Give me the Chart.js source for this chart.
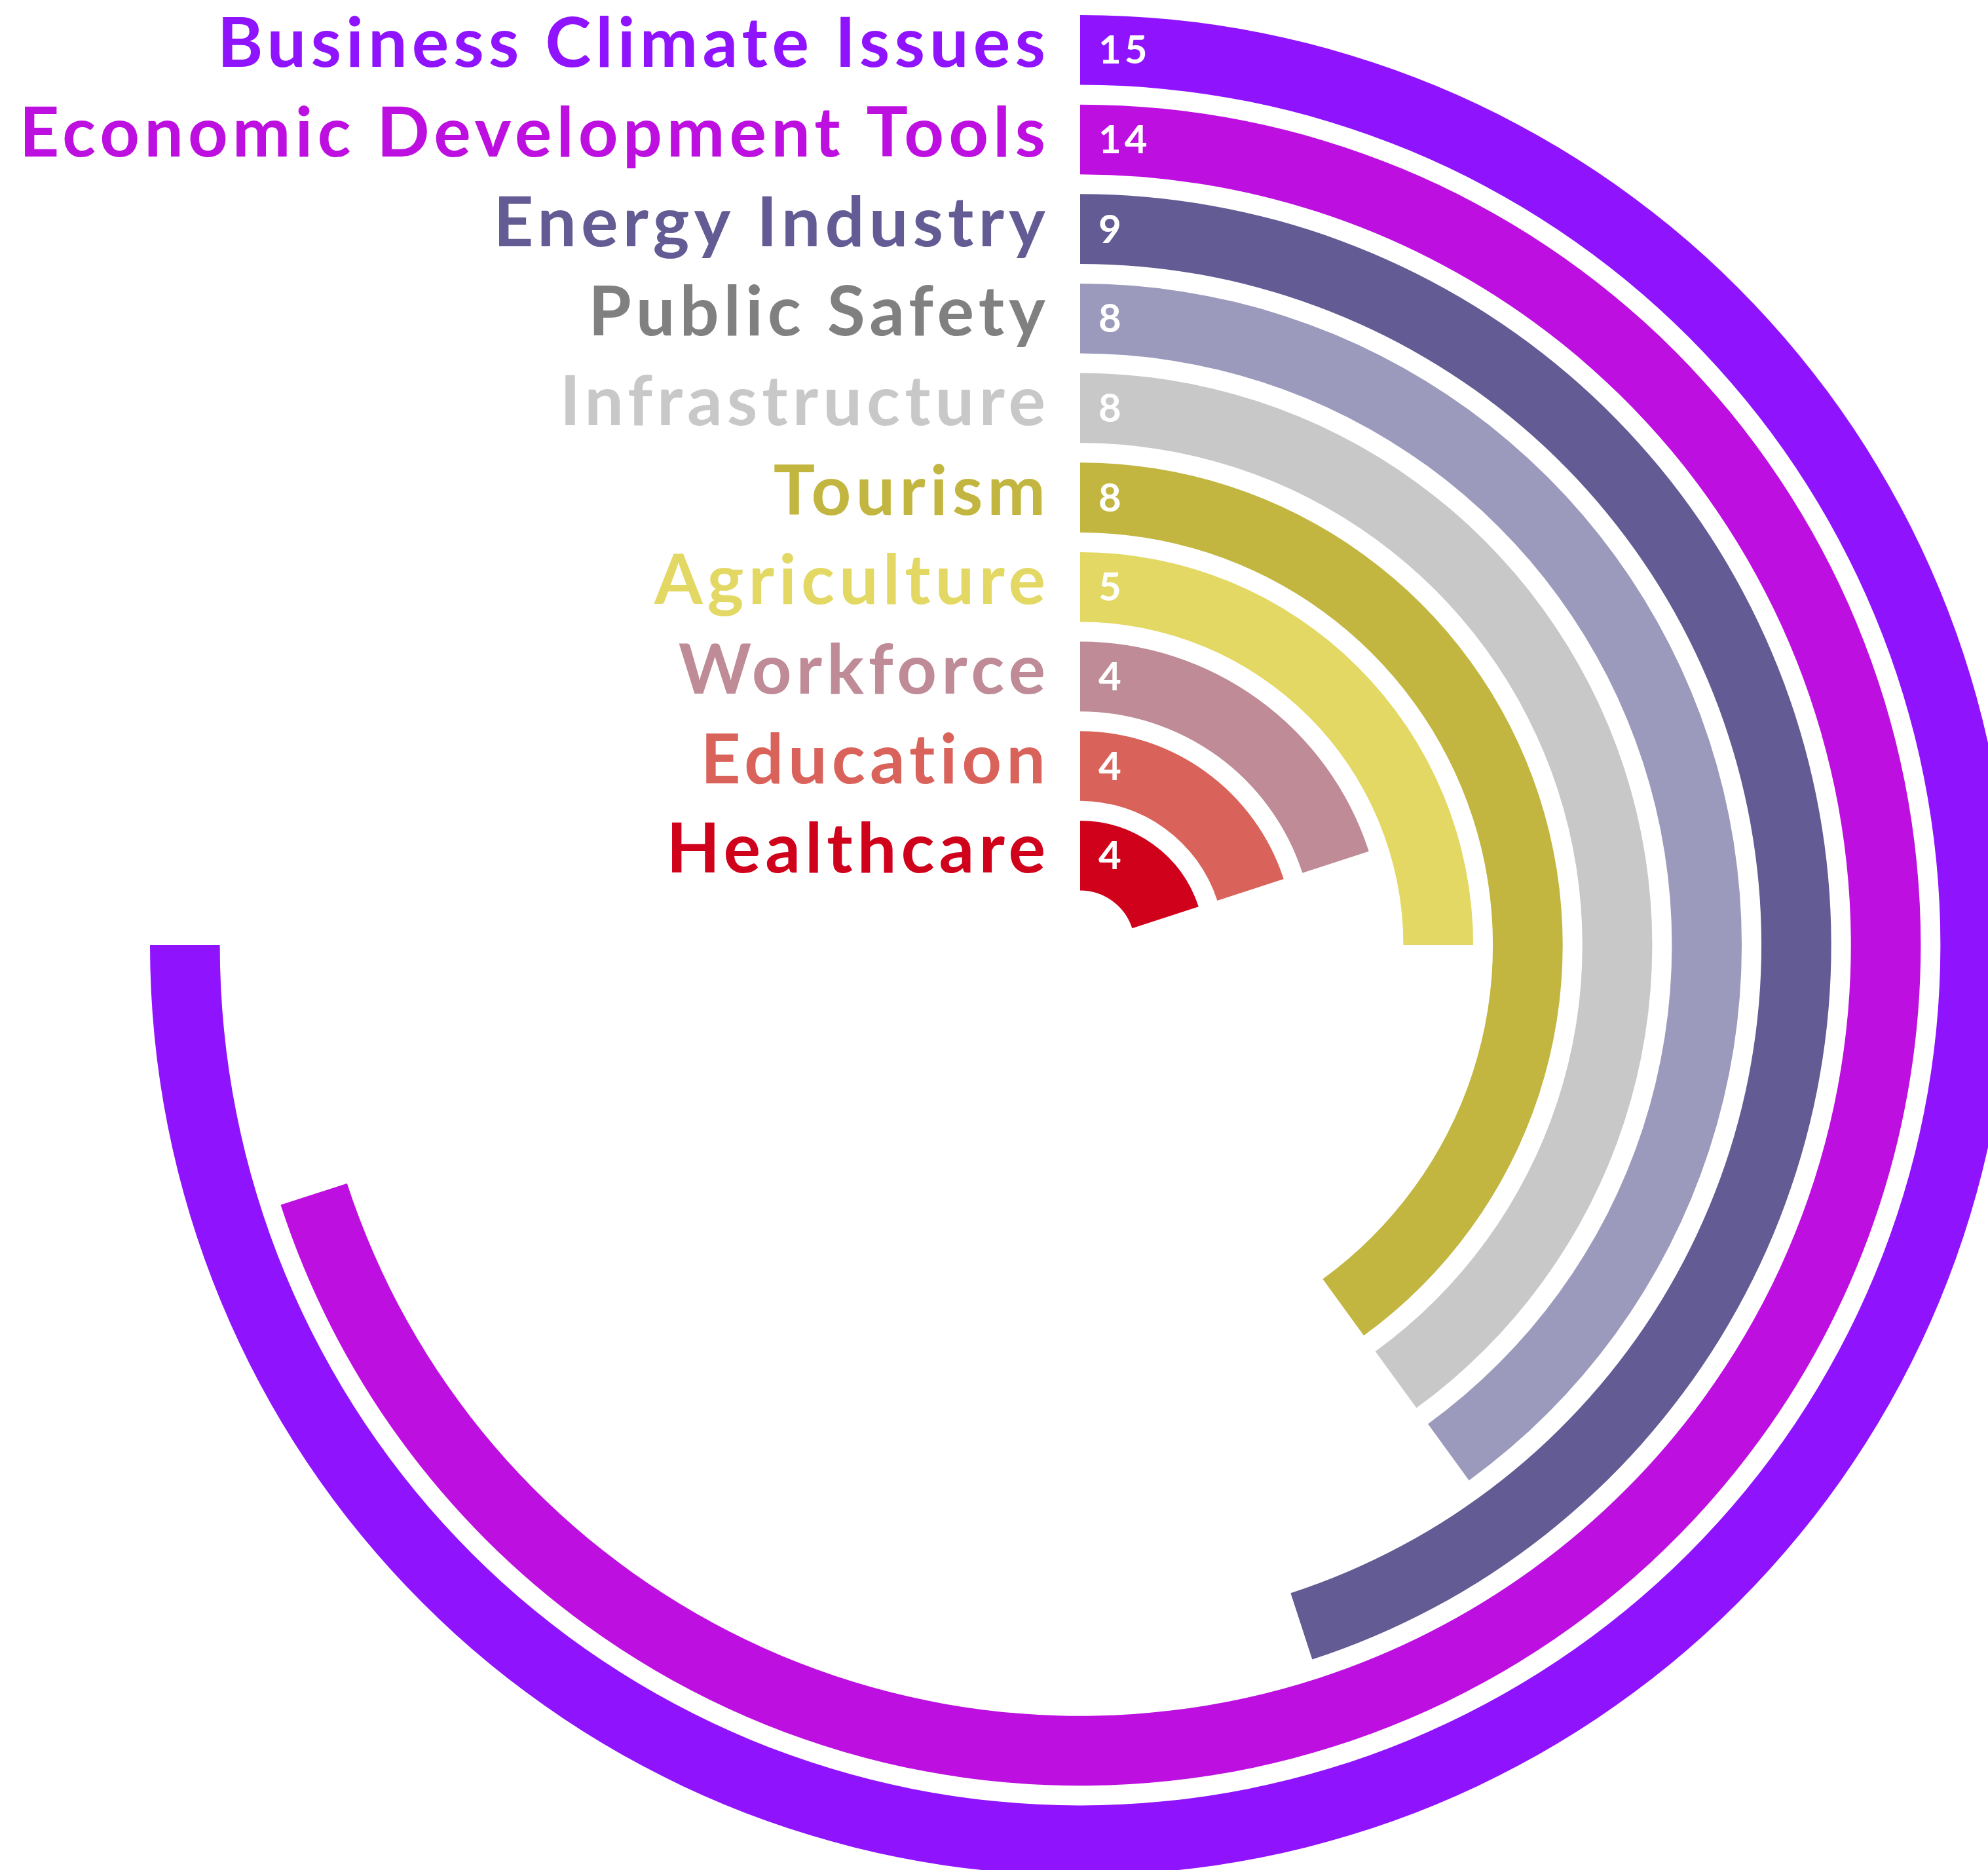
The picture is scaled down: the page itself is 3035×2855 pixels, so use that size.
<!DOCTYPE html>
<html>
<head>
<meta charset="utf-8">
<script src="https://cdn.jsdelivr.net/npm/chart.js"></script>
<style>
  body { margin: 0; background: #fff; }
  #frame { width: 3035px; height: 2855px; overflow: hidden; position: relative; }
  #box { width: 3069px; height: 2863px; position: relative; }
</style>
</head>
<body>
<div id="frame"><div id="box"><canvas id="radial"></canvas></div></div>
<script>
// categories, outer ring first
const categories = ['Business Climate Issues', 'Economic Development Tools', 'Energy Industry',
  'Public Safety', 'Infrastructure', 'Tourism', 'Agriculture', 'Workforce', 'Education', 'Healthcare'];
const values = [15, 14, 9, 8, 8, 8, 5, 4, 4, 4];
const maxValue = 20; // full turn
const ringColors = ['#9013FE', '#BD10E0', '#635B94', '#9B9ABC', '#C8C8C8', '#C2B640',
  '#E3D864', '#BE8B96', '#D9635A', '#D0011B'];
const labelColors = ['#9013FE', '#BD10E0', '#635B94', '#808080', '#C8C8C8', '#C2B640',
  '#E3D864', '#BE8B96', '#D9635A', '#D0011B'];

const clear = 'rgba(0,0,0,0)';

// one ring per category, thin invisible rings between them as gaps
const datasets = [];
categories.forEach((cat, i) => {
  datasets.push({
    label: cat,
    data: [values[i], maxValue - values[i]],
    backgroundColor: [ringColors[i], clear],
    weight: 106.5,
    isRing: true,
    idx: i
  });
  if (i < categories.length - 1) {
    datasets.push({ label: 'gap', data: [maxValue], backgroundColor: [clear], weight: 30 });
  }
});

// texts: category name left of the ring start, value on the ring
const ringText = {
  id: 'ringText',
  afterDatasetsDraw(chart) {
    const ctx = chart.ctx;
    chart.data.datasets.forEach((ds, d) => {
      if (!ds.isRing) return;
      const arc = chart.getDatasetMeta(d).data[0];
      const mid = arc.y - (arc.outerRadius + arc.innerRadius) / 2;
      ctx.save();
      ctx.textBaseline = 'alphabetic';
      ctx.font = 'bold 106px Lato';
      ctx.letterSpacing = '7px';
      ctx.textAlign = 'right';
      ctx.fillStyle = labelColors[ds.idx];
      ctx.fillText(ds.label, arc.x - 46, mid + 26);
      ctx.font = 'bold 60px Lato';
      ctx.letterSpacing = '5px';
      ctx.textAlign = 'left';
      ctx.fillStyle = '#ffffff';
      ctx.fillText(String(values[ds.idx]), arc.x + 28, mid + 21);
      ctx.restore();
    });
  }
};

document.fonts.load('bold 106px Lato').then(() => {
  new Chart(document.getElementById('radial'), {
    type: 'doughnut',
    data: { labels: ['value', 'rest'], datasets: datasets },
    options: {
      responsive: true,
      maintainAspectRatio: false,
      devicePixelRatio: 1,
      animation: false,
      cutout: 83.5,
      layout: { padding: { left: 229, top: 23, right: 0, bottom: 0 } },
      elements: { arc: { borderWidth: 0, hoverOffset: 0 } },
      plugins: { legend: { display: false }, tooltip: { enabled: false } }
    },
    plugins: [ringText]
  });
});
</script>
</body>
</html>
